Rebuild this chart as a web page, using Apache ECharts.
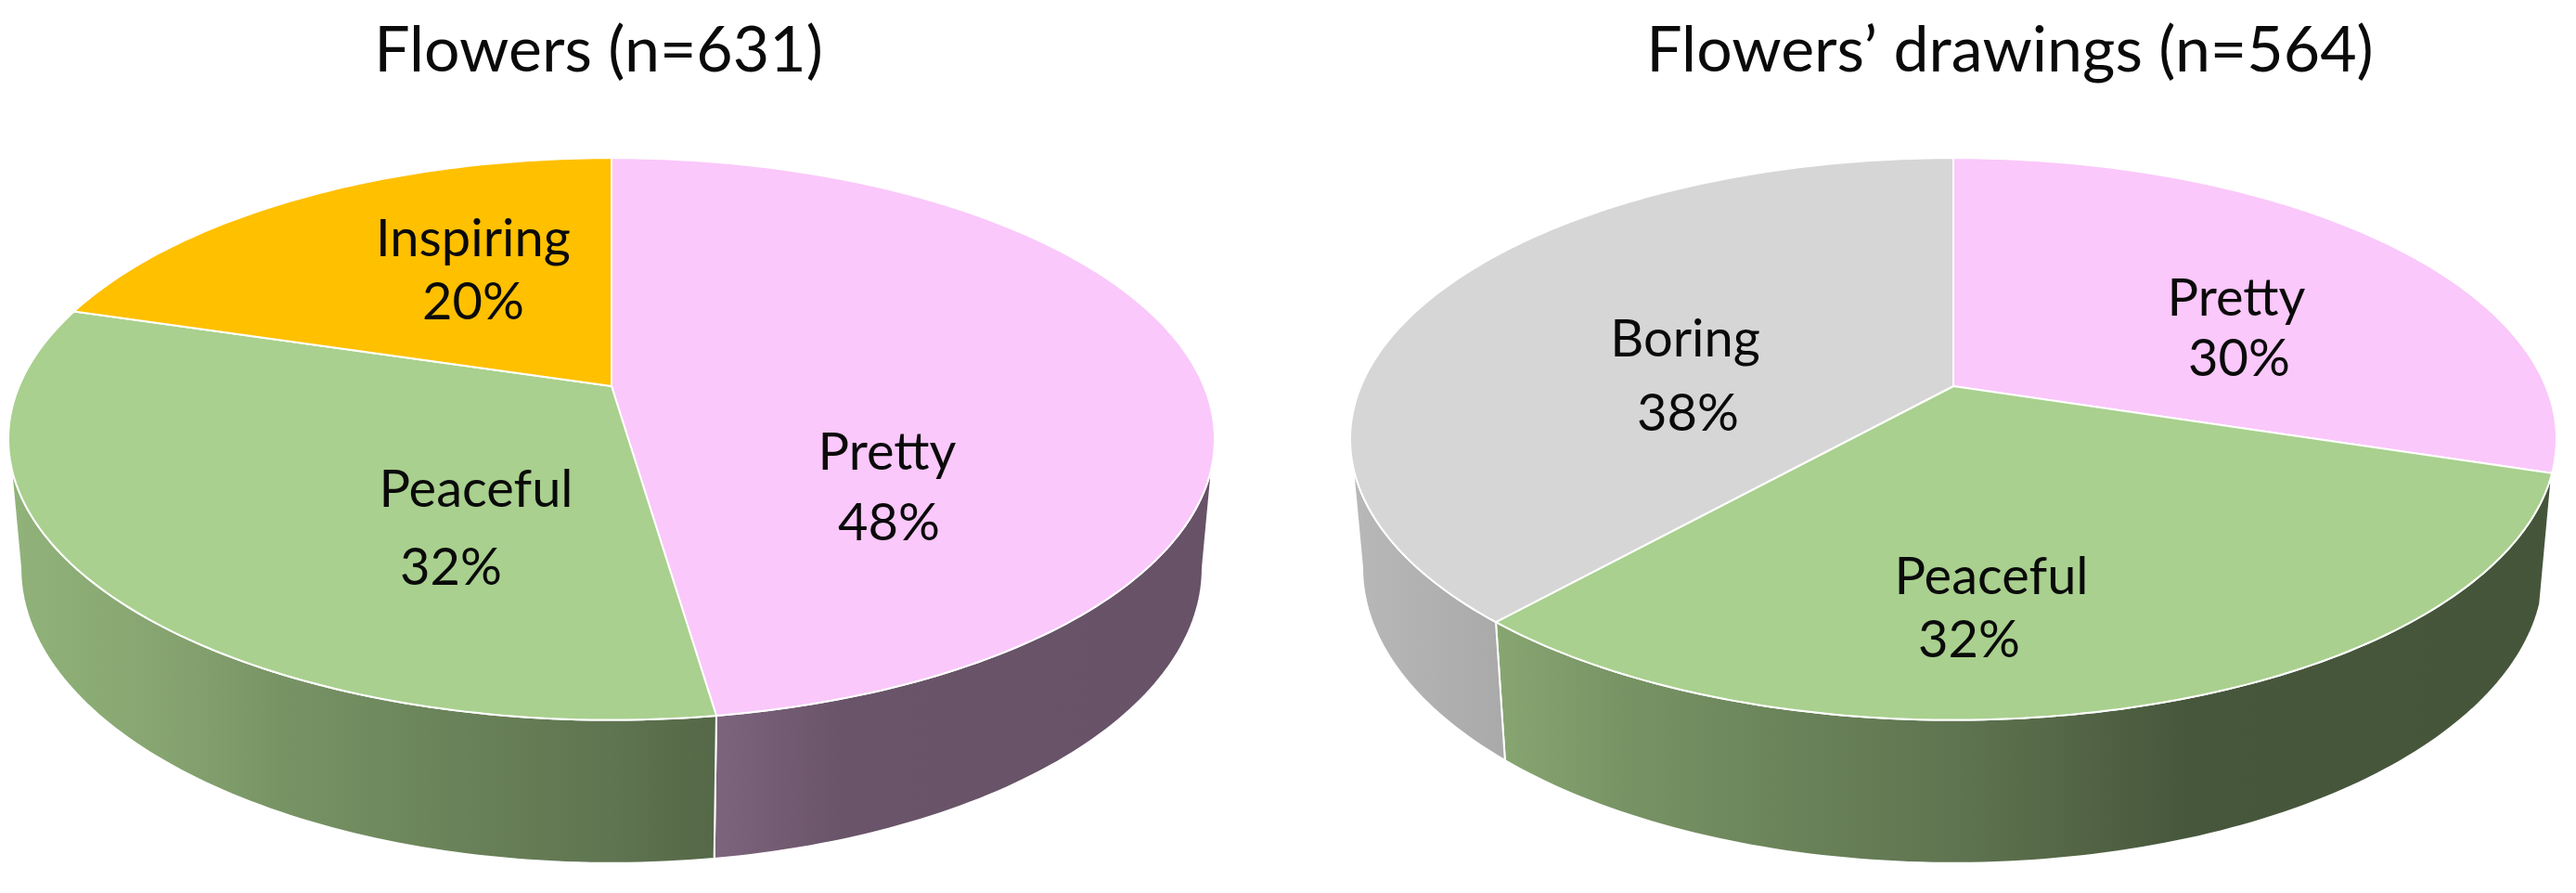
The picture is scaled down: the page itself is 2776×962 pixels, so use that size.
<!DOCTYPE html>
<html>
<head>
<meta charset="utf-8">
<style>html,body{margin:0;padding:0;background:#fff}#c{width:2776px;height:962px}</style>
<script src="https://cdn.jsdelivr.net/npm/echarts@6/dist/echarts.min.js"></script>
</head>
<body>
<div id="c"></div>
<script>
// ---- data ----
const flowersTitle = 'Flowers (n=631)';
const flowersCategories = ['Pretty', 'Peaceful', 'Inspiring'];
const flowersValues = [47.7, 32.0, 20.3];
const drawingsTitle = 'Flowers\u2019 drawings (n=564)';
const drawingsCategories = ['Pretty', 'Peaceful', 'Boring'];
const drawingsValues = [29.9, 31.65, 38.45];

// ---- styling / layout ----
const categoryColors = { Pretty: '#FAC8FA', Peaceful: '#A9D08E', Inspiring: '#FFC000', Boring: '#D6D6D6' };
const FONT = 'Lato';
const K = 0.188;                                   // perspective strength
const TOP = { A: 638.4, B: 292, cy: 416 };          // upper face
const LOW = { A: 625.6, B: 306.8, cy: 552 };        // lower rim of the wall
const shadeStops = [[-650,0.86],[-480,0.79],[-360,0.71],[-200,0.64],[0,0.56],[111,0.5],[250,0.42],[650,0.41]];
const pies = [
  { cx: 659, title: flowersTitle, titleX: 640, cats: flowersCategories, vals: flowersValues,
    labels: [[956,488,958,564],[513,528,486,612],[510,258,510,326]] },
  { cx: 2105, title: drawingsTitle, titleX: 2161, cats: drawingsCategories, vals: drawingsValues,
    labels: [[2410,322,2413,387],[2146,622,2122,690],[1816,366,1819,446]] }
];

function project(cx, face, deg) {
  const t = deg * Math.PI / 180, u = Math.sin(t), v = -Math.cos(t), d = 1 - K * v;
  return [cx + face.A * u / d, face.cy + face.B * v / d];
}
function arc(cx, face, a, b) {
  const pts = [], n = Math.max(2, Math.ceil(Math.abs(b - a)));
  for (let i = 0; i <= n; i++) pts.push(project(cx, face, a + (b - a) * i / n));
  return pts;
}
function startDeg(vals, i) {
  let s = 0; for (let j = 0; j < i; j++) s += vals[j];
  return s / vals.reduce((p, c) => p + c, 0) * 360;
}
function shadeColor(hex, f) {
  const n = parseInt(hex.slice(1), 16);
  return 'rgb(' + [(n >> 16) & 255, (n >> 8) & 255, n & 255].map(c => Math.round(c * f)).join(',') + ')';
}
const silhouette = Math.acos(-K) * 180 / Math.PI;

const series = [];
pies.forEach(p => {
  const rows = p.vals.map((v, i) => ({ name: p.cats[i], value: v }));
  const sliceDeg = (api, i) => {
    const a = startDeg(p.vals, i);
    return [a, a + api.value(0) / p.vals.reduce((s, c) => s + c, 0) * 360];
  };
  // side wall
  series.push({
    type: 'custom', coordinateSystem: 'none', z: 1, silent: true, animation: false, data: rows,
    renderItem(params, api) {
      const [a, b] = sliceDeg(api, params.dataIndex);
      const s = Math.max(a, silhouette), e = Math.min(b, 360 - silhouette);
      if (e <= s) return { type: 'group', children: [] };
      const base = categoryColors[p.cats[params.dataIndex]];
      const x0 = p.cx + shadeStops[0][0], x1 = p.cx + shadeStops[shadeStops.length - 1][0];
      const fill = new echarts.graphic.LinearGradient(x0, 0, x1, 0,
        shadeStops.map(st => ({ offset: (p.cx + st[0] - x0) / (x1 - x0), color: shadeColor(base, st[1]) })), true);
      return { type: 'polygon',
        shape: { points: arc(p.cx, TOP, s, e).concat(arc(p.cx, LOW, e, s)) },
        style: { fill, stroke: '#fff', lineWidth: 2, lineJoin: 'round' } };
    }
  });
  // upper face
  series.push({
    type: 'custom', coordinateSystem: 'none', z: 2, silent: true, animation: false, data: rows,
    renderItem(params, api) {
      const [a, b] = sliceDeg(api, params.dataIndex);
      const apex = [p.cx, TOP.cy];
      return { type: 'polygon',
        shape: { points: [apex].concat(arc(p.cx, TOP, a, b)) },
        style: { fill: categoryColors[p.cats[params.dataIndex]], stroke: '#fff', lineWidth: 2, lineJoin: 'round' } };
    }
  });
  // labels
  series.push({
    type: 'custom', coordinateSystem: 'none', z: 3, silent: true, animation: false, data: rows,
    renderItem(params, api) {
      const l = p.labels[params.dataIndex];
      const txt = (text, x, y) => ({ type: 'text', style: { text, x, y, align: 'center', verticalAlign: 'middle',
        font: '56px ' + FONT, fill: '#0a0a0a' } });
      return { type: 'group', children: [
        txt(p.cats[params.dataIndex], l[0], l[1]),
        txt(Math.round(api.value(0)) + '%', l[2], l[3])
      ] };
    }
  });
});

const chart = echarts.init(document.getElementById('c'), null, { renderer: 'canvas' });
chart.setOption({
  backgroundColor: '#fff',
  animation: false,
  title: pies.map(p => ({ text: p.title, left: p.titleX, top: 16, textAlign: 'center',
    textStyle: { fontFamily: FONT, fontWeight: 'normal', fontSize: 68, color: '#0a0a0a' } })),
  series
});
</script>
</body>
</html>
